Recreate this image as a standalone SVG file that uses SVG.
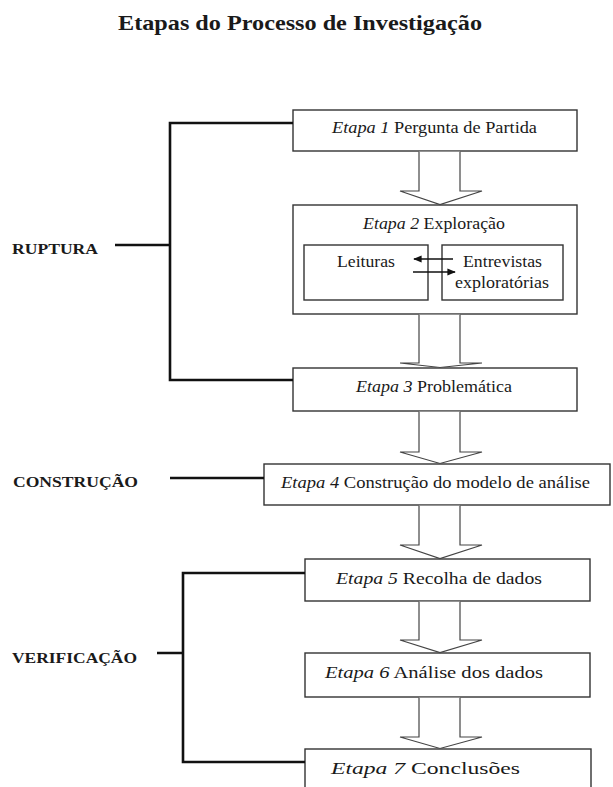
<svg xmlns="http://www.w3.org/2000/svg" width="613" height="787" viewBox="0 0 613 787">
<style>
text{font-family:"Liberation Serif","Times New Roman",serif;fill:#1a1a1a}
.t{font-size:21px;font-weight:bold}
.lab{font-size:15px;font-weight:bold}
.bx{fill:#fff;stroke:#333;stroke-width:1.4}
.st{font-family:"Liberation Serif","Times New Roman",serif;font-size:16.5px;text-anchor:middle}
.it{font-style:italic}
.br{fill:none;stroke:#111;stroke-width:2.6}
.ar{fill:#fff;stroke:#444;stroke-width:1.2}
</style>
<defs>
<marker id="ah" viewBox="0 0 10 10" refX="9" refY="5" markerWidth="6.5" markerHeight="6.5" orient="auto"><path d="M0,1 L10,5 L0,9 z" fill="#111"/></marker>
</defs>
<rect width="613" height="787" fill="#fff"/>
<text class="t" x="118" y="30" textLength="364" lengthAdjust="spacingAndGlyphs">Etapas do Processo de Investigação</text>

<g id="ruptura"><text class="lab" x="12" y="254" textLength="86" lengthAdjust="spacingAndGlyphs">RUPTURA</text></g>
<g id="construcao"><text class="lab" x="13" y="487" textLength="125" lengthAdjust="spacingAndGlyphs">CONSTRUÇÃO</text></g>
<g id="verificacao"><text class="lab" x="12" y="663" textLength="125" lengthAdjust="spacingAndGlyphs">VERIFICAÇÃO</text></g>

<g id="etapa1"><rect class="bx" x="293" y="110" width="284" height="41"/><text class="st" x="434.5" y="133" textLength="205" lengthAdjust="spacingAndGlyphs"><tspan class="it">Etapa 1</tspan> Pergunta de Partida</text></g>
<g id="etapa2"><rect class="bx" x="293" y="205" width="284" height="109"/><text class="st" x="434" y="229" textLength="142" lengthAdjust="spacingAndGlyphs"><tspan class="it">Etapa 2</tspan> Exploração</text></g>
<g id="leituras"><rect class="bx" x="304" y="245" width="124" height="55"/><text class="st" x="366" y="267" textLength="58" lengthAdjust="spacingAndGlyphs">Leituras</text></g>
<g id="entrevistas"><rect class="bx" x="442" y="245" width="121" height="55"/><text class="st" x="502.5" y="267" textLength="79" lengthAdjust="spacingAndGlyphs">Entrevistas</text><text class="st" x="502" y="288" textLength="94" lengthAdjust="spacingAndGlyphs">exploratórias</text></g>
<g id="etapa3"><rect class="bx" x="293" y="368" width="284" height="43"/><text class="st" x="434" y="392" textLength="156" lengthAdjust="spacingAndGlyphs"><tspan class="it">Etapa 3</tspan> Problemática</text></g>
<g id="etapa4"><rect class="bx" x="264" y="464" width="346" height="41"/><text class="st" x="435.5" y="488" textLength="309" lengthAdjust="spacingAndGlyphs"><tspan class="it">Etapa 4</tspan> Construção do modelo de análise</text></g>
<g id="etapa5"><rect class="bx" x="305" y="559" width="285" height="42"/><text class="st" x="439" y="584" textLength="206" lengthAdjust="spacingAndGlyphs"><tspan class="it">Etapa 5</tspan> Recolha de dados</text></g>
<g id="etapa6"><rect class="bx" x="305" y="653" width="285" height="44"/><text class="st" x="434" y="678" textLength="218" lengthAdjust="spacingAndGlyphs"><tspan class="it">Etapa 6</tspan> Análise dos dados</text></g>
<g id="etapa7"><rect class="bx" x="305" y="749" width="286" height="45"/><text class="st" x="425.5" y="774" textLength="189" lengthAdjust="spacingAndGlyphs"><tspan class="it">Etapa 7</tspan> Conclusões</text></g>

<g id="connectors">
<path class="br" d="M293,123 H170 V380 H293 M115,245 H170"/>
<path class="br" d="M170,478 H264"/>
<path class="br" d="M305,573 H183 V762 H305 M157,653 H183"/>
<path class="ar" d="M419,151.7 V191 H400 L440,204.5 L482,191 H460 V151.7"/>
<path class="ar" d="M419,314.7 V363 H400 L440,367.5 L482,363 H460 V314.7"/>
<path class="ar" d="M419,411.7 V452 H400 L440,463.5 L482,452 H460 V411.7"/>
<path class="ar" d="M419,505.7 V545 H400 L440,558.5 L482,545 H460 V505.7"/>
<path class="ar" d="M419,601.7 V640 H400 L440,652.5 L482,640 H460 V601.7"/>
<path class="ar" d="M419,697.7 V737 H400 L440,748.5 L482,737 H460 V697.7"/>
<line x1="453" y1="259" x2="414" y2="259" stroke="#111" stroke-width="1.3" marker-end="url(#ah)"/>
<line x1="413" y1="272" x2="455" y2="272" stroke="#111" stroke-width="1.3" marker-end="url(#ah)"/>
</g>
</svg>
